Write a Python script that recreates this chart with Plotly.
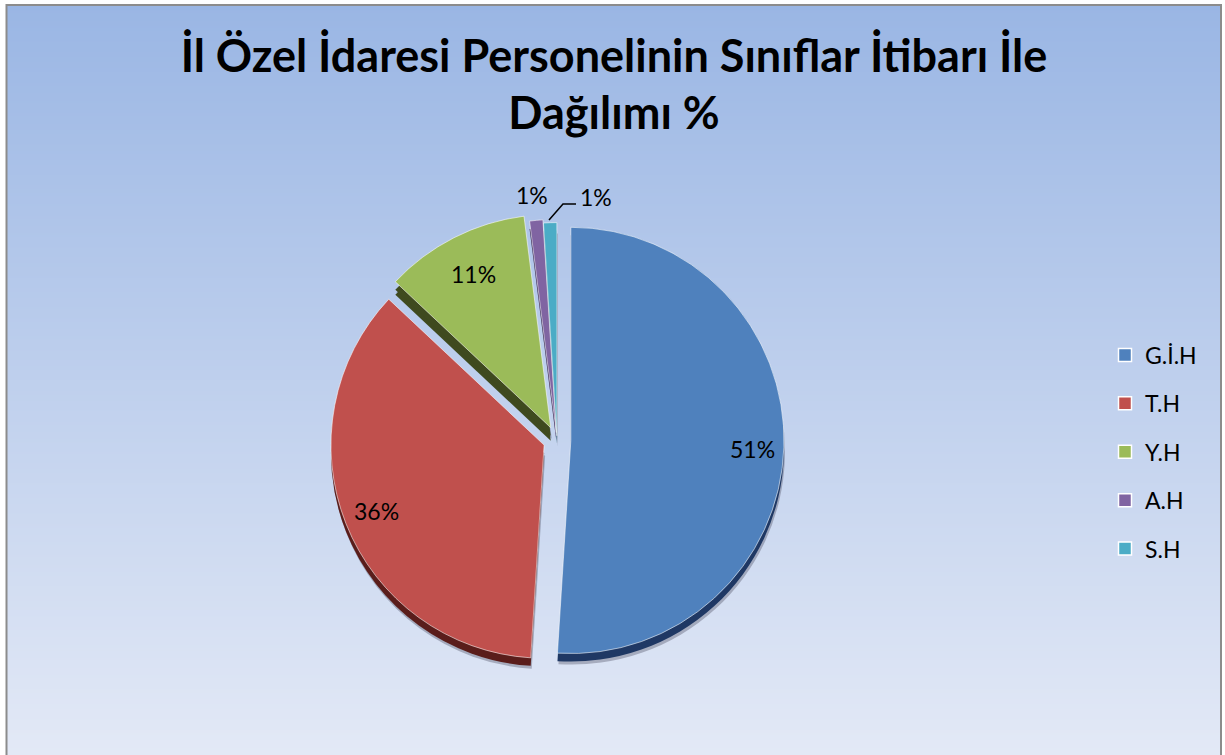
import plotly.graph_objects as go

W, H = 1225, 755

categories = ["G.İ.H", "T.H", "Y.H", "A.H", "S.H"]
values = [51, 36, 11, 1, 1]
colors = ["#4F81BD", "#C0504D", "#9BBB59", "#8064A2", "#4BACC6"]
edge_colors = ["#1F3864", "#5A1D1B", "#3F4A1F", "#3B2A55", "#1F5A6B"]
green_side_colors = ["rgba(0,0,0,0)", "rgba(0,0,0,0)", "#3F4A1F", "rgba(0,0,0,0)", "rgba(0,0,0,0)"]
pulls = [0.065, 0.065, 0.065, 0.035, 0.02]
title_text = "İl Özel İdaresi Personelinin Sınıflar İtibarı İle<br>Dağılımı %"
FONT = "Lato, Carlito, Calibri, sans-serif"

# label anchors in pixels of the photographed page
label_px = [(752, 449), (376, 511), (473, 274), (532, 195), (596, 197)]


def px(x):
    return x / W


def py(y):
    return 1 - y / H


def pie_domain(cx, cy, r0):
    return dict(x=[px(cx - r0), px(cx + r0)], y=[py(cy + r0), py(cy - r0)])


CX, CY, R0 = 557, 440, 227

fig = go.Figure()

# background gradient
fig.add_trace(go.Heatmap(
    x=[0, 1], y=[0, 1], z=[[0, 0], [1, 1]],
    colorscale=[[0, "#E3E9F6"], [1, "#9AB6E4"]],
    zsmooth="best", showscale=False, hoverinfo="skip",
    xaxis="x", yaxis="y",
))

# soft drop shadow
fig.add_trace(go.Pie(
    labels=categories, values=values, sort=False, direction="clockwise", rotation=0,
    pull=pulls, domain=pie_domain(CX + 1, CY + 11, R0),
    marker=dict(colors=["rgba(70,70,90,0.35)"] * 5, line=dict(width=0)),
    textinfo="none", hoverinfo="skip", showlegend=False,
))
# deeper side of the green slice
fig.add_trace(go.Pie(
    labels=categories, values=values, sort=False, direction="clockwise", rotation=0,
    pull=pulls, domain=pie_domain(CX, CY + 13, R0),
    marker=dict(colors=green_side_colors, line=dict(width=0)),
    textinfo="none", hoverinfo="skip", showlegend=False,
))
# dark slice sides
fig.add_trace(go.Pie(
    labels=categories, values=values, sort=False, direction="clockwise", rotation=0,
    pull=pulls, domain=pie_domain(CX, CY + 8, R0),
    marker=dict(colors=edge_colors, line=dict(width=0)),
    textinfo="none", hoverinfo="skip", showlegend=False,
))
# slice faces
fig.add_trace(go.Pie(
    labels=categories, values=values, sort=False, direction="clockwise", rotation=0,
    pull=pulls, domain=pie_domain(CX, CY, R0),
    marker=dict(colors=colors, line=dict(color="rgba(255,255,255,0.55)", width=1)),
    textinfo="none", hoverinfo="label+percent", showlegend=False,
))

# legend entries
for name, color in zip(categories, colors):
    fig.add_trace(go.Scatter(
        x=[None], y=[None], mode="markers", name=name, legendgroup=name,
        marker=dict(symbol="square", size=13, color=color, line=dict(color="white", width=1.5)),
        xaxis="x", yaxis="y",
    ))

total = sum(values)
annotations = [
    dict(x=px(x), y=py(y), xref="paper", yref="paper", showarrow=False,
         xanchor="center", yanchor="middle",
         text=f"{round(v / total * 100)}%", font=dict(family=FONT, size=23, color="black"))
    for (x, y), v in zip(label_px, values)
]

fig.update_layout(
    width=W, height=H,
    margin=dict(l=0, r=0, t=0, b=0),
    paper_bgcolor="white",
    plot_bgcolor="rgba(0,0,0,0)",
    font=dict(family=FONT, color="black"),
    title=dict(
        text='<span style="font-size:45px">' + title_text.replace("<br>", '</span><br><span style="font-size:45px">') + "</span>",
        x=px(614), xanchor="center", y=py(72), yanchor="middle",
        font=dict(family=FONT, size=44, color="black", weight="bold"),
    ),
    xaxis=dict(domain=[px(7), px(1221)], range=[0, 1], visible=False, fixedrange=True),
    yaxis=dict(domain=[0, py(5)], range=[0, 1], visible=False, fixedrange=True),
    legend=dict(
        x=px(1105), y=py(333.5), xanchor="left", yanchor="top",
        bgcolor="rgba(0,0,0,0)", font=dict(family=FONT, size=23, color="black"),
        tracegroupgap=15.5, itemclick=False, itemdoubleclick=False,
    ),
    annotations=annotations,
    shapes=[
        dict(type="rect", xref="paper", yref="paper", x0=px(6.5), x1=px(1221), y0=-0.02, y1=py(5),
             line=dict(color="#8C8C8C", width=2), fillcolor="rgba(0,0,0,0)"),
        dict(type="path", xref="paper", yref="paper",
             path=f"M {px(549)} {py(220)} L {px(563)} {py(204)} L {px(576)} {py(204)}",
             line=dict(color="black", width=1.5)),
    ],
)

fig.write_html("out.html", config={"displayModeBar": False},
               post_script="document.body.style.margin='0';")
